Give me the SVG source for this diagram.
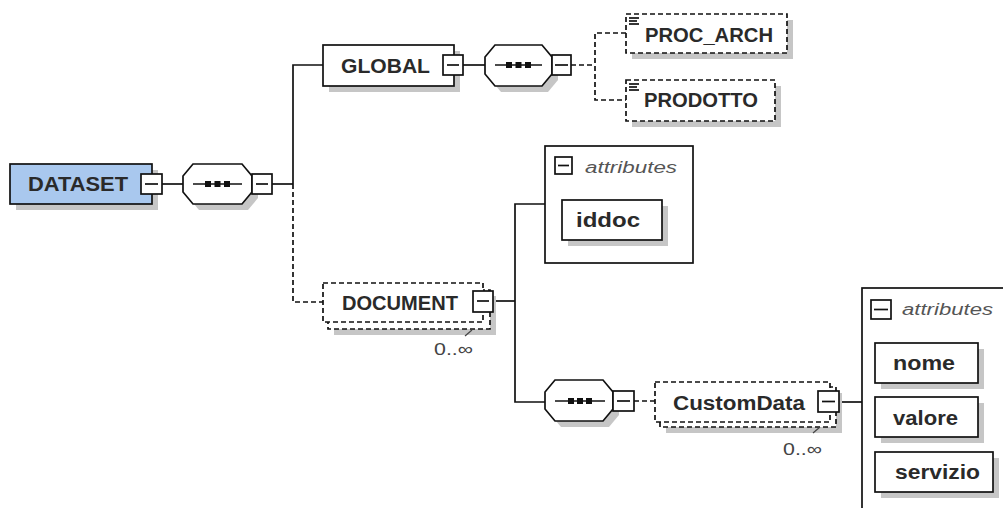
<svg xmlns="http://www.w3.org/2000/svg" width="1003" height="508" viewBox="0 0 1003 508">
<defs>
<style>
.sh{fill:#c6c6c6;stroke:none}
.box{fill:#ffffff;stroke:#111;stroke-width:1.7}
.dbox{fill:#ffffff;stroke:#111;stroke-width:1.7;stroke-dasharray:5,3}
.ln{fill:none;stroke:#111;stroke-width:1.7}
.dl{fill:none;stroke:#111;stroke-width:1.7;stroke-dasharray:5,3}
.el{font-family:"Liberation Sans",Arial,sans-serif;font-weight:bold;font-size:20px;fill:#2a2a2a}
.at{font-family:"Liberation Sans",Arial,sans-serif;font-style:italic;font-size:16px;fill:#555}
.an{font-family:"Liberation Sans",Arial,sans-serif;font-weight:bold;font-size:20px;fill:#2a2a2a}
.oc{font-family:"Liberation Sans",Arial,sans-serif;font-size:17px;fill:#444}
.dot{fill:#111}
</style>
</defs>
<rect width="1003" height="508" fill="#ffffff"/>

<g id="connectors">
<line class="ln" x1="162" y1="184" x2="183" y2="184"/>
<line class="ln" x1="272" y1="184" x2="293" y2="184"/>
<polyline class="ln" points="293,184 293,65 323,65"/>
<polyline class="dl" points="293,184 293,302 323,302"/>
<line class="ln" x1="463" y1="65" x2="485" y2="65"/>
<line class="dl" x1="571" y1="65" x2="595" y2="65"/>
<polyline class="dl" points="626,33 595,33 595,100 626,100"/>
<line class="ln" x1="493" y1="301" x2="515" y2="301"/>
<polyline class="ln" points="545,204 515,204 515,402 545,402"/>
<line class="dl" x1="634" y1="401" x2="655" y2="401"/>
<line class="ln" x1="840" y1="402" x2="862" y2="402"/>
</g>

<g id="DATASET">
<rect class="sh" x="16" y="170" width="142" height="40"/>
<rect x="10" y="164" width="142" height="40" fill="#a9c8ee" stroke="#111" stroke-width="1.7"/>
<text class="el" x="28" y="191" textLength="100" lengthAdjust="spacingAndGlyphs">DATASET</text>
<rect class="box" x="141" y="174" width="21" height="20"/>
<line class="ln" x1="145" y1="184" x2="158" y2="184"/>
</g>

<g id="seq1">
<polygon class="sh" points="199,170 248,170 258,182 258,198 248,210 199,210 189,198 189,182"/>
<polygon class="box" points="193,164 242,164 252,176 252,192 242,204 193,204 183,192 183,176"/>
<line class="ln" x1="193" y1="184" x2="242" y2="184"/>
<rect class="dot" x="205" y="181" width="6" height="6"/>
<rect class="dot" x="214.5" y="181" width="6" height="6"/>
<rect class="dot" x="224" y="181" width="6" height="6"/>
<rect class="box" x="252" y="174" width="20" height="20"/>
<line class="ln" x1="256" y1="184" x2="268" y2="184"/>
</g>

<g id="GLOBAL">
<rect class="sh" x="329" y="51" width="131" height="41"/>
<rect class="box" x="323" y="45" width="131" height="41"/>
<text class="el" x="341" y="73" textLength="89" lengthAdjust="spacingAndGlyphs">GLOBAL</text>
<rect class="box" x="443" y="55" width="20" height="20"/>
<line class="ln" x1="447" y1="65" x2="459" y2="65"/>
</g>

<g id="seq2">
<polygon class="sh" points="501,51 548,51 558,63 558,80 548,92 501,92 491,80 491,63"/>
<polygon class="box" points="495,45 542,45 552,57 552,74 542,86 495,86 485,74 485,57"/>
<line class="ln" x1="495" y1="65" x2="542" y2="65"/>
<rect class="dot" x="506" y="62" width="6" height="6"/>
<rect class="dot" x="515.5" y="62" width="6" height="6"/>
<rect class="dot" x="525" y="62" width="6" height="6"/>
<rect class="box" x="552" y="55" width="19" height="20"/>
<line class="ln" x1="555" y1="65" x2="568" y2="65"/>
</g>

<g id="PROC_ARCH">
<rect class="sh" x="632" y="20" width="161" height="39"/>
<rect class="dbox" x="626" y="14" width="161" height="39"/>
<line class="ln" x1="629" y1="18" x2="639" y2="18" stroke-width="1.3"/>
<line class="ln" x1="629" y1="21" x2="637" y2="21" stroke-width="1.3"/>
<line class="ln" x1="629" y1="24" x2="639" y2="24" stroke-width="1.3"/>
<text class="el" x="645" y="42" textLength="128" lengthAdjust="spacingAndGlyphs">PROC_ARCH</text>
</g>

<g id="PRODOTTO">
<rect class="sh" x="632" y="86" width="149" height="41"/>
<rect class="dbox" x="626" y="80" width="149" height="41"/>
<line class="ln" x1="629" y1="84" x2="639" y2="84" stroke-width="1.3"/>
<line class="ln" x1="629" y1="87" x2="637" y2="87" stroke-width="1.3"/>
<line class="ln" x1="629" y1="90" x2="639" y2="90" stroke-width="1.3"/>
<text class="el" x="644" y="107" textLength="114" lengthAdjust="spacingAndGlyphs">PRODOTTO</text>
</g>

<g id="DOCUMENT">
<rect class="sh" x="334" y="296" width="162" height="39"/>
<rect class="dbox" x="328" y="290" width="162" height="39"/>
<rect class="dbox" x="323" y="283" width="160" height="39"/>
<text class="el" x="342" y="310" textLength="116" lengthAdjust="spacingAndGlyphs">DOCUMENT</text>
<rect class="box" x="473" y="291" width="20" height="21"/>
<line class="ln" x1="477" y1="301" x2="489" y2="301"/>
<line x1="465" y1="336" x2="472" y2="330" stroke="#444" stroke-width="1.2"/>
<text class="oc" x="434" y="355" textLength="39" lengthAdjust="spacingAndGlyphs">0..∞</text>
</g>

<g id="attributes1">
<rect class="box" x="545" y="146" width="148" height="117"/>
<rect class="box" x="555" y="157" width="17" height="17" stroke-width="1.4"/>
<line class="ln" x1="558" y1="165.5" x2="569" y2="165.5" stroke-width="1.4"/>
<text class="at" x="585" y="173" textLength="92" lengthAdjust="spacingAndGlyphs">attributes</text>
<g id="iddoc">
<rect class="sh" x="568" y="206" width="100" height="40"/>
<rect class="box" x="562" y="200" width="100" height="40"/>
<text class="an" x="576" y="227" textLength="64" lengthAdjust="spacingAndGlyphs">iddoc</text>
</g>
</g>

<g id="seq3">
<polygon class="sh" points="561,386 609,386 619,398 619,415 609,427 561,427 551,415 551,398"/>
<polygon class="box" points="555,380 603,380 613,392 613,409 603,421 555,421 545,409 545,392"/>
<line class="ln" x1="555" y1="401" x2="605" y2="401"/>
<rect class="dot" x="568" y="398" width="6" height="6"/>
<rect class="dot" x="577" y="398" width="6" height="6"/>
<rect class="dot" x="586" y="398" width="6" height="6"/>
<rect class="box" x="613" y="391" width="21" height="20"/>
<line class="ln" x1="617" y1="401" x2="630" y2="401"/>
</g>

<g id="CustomData">
<rect class="sh" x="666" y="393" width="176" height="40"/>
<rect class="dbox" x="660" y="387" width="176" height="40"/>
<rect class="dbox" x="655" y="382" width="175" height="40"/>
<text class="el" x="673" y="410" textLength="132" lengthAdjust="spacingAndGlyphs">CustomData</text>
<rect class="box" x="818" y="391" width="21" height="21"/>
<line class="ln" x1="822" y1="401.5" x2="835" y2="401.5"/>
<line x1="813" y1="433" x2="820" y2="427" stroke="#444" stroke-width="1.2"/>
<text class="oc" x="783" y="455" textLength="39" lengthAdjust="spacingAndGlyphs">0..∞</text>
</g>

<g id="attributes2">
<rect class="box" x="862" y="288" width="160" height="240"/>
<rect class="box" x="871" y="300" width="20" height="19" stroke-width="1.4"/>
<line class="ln" x1="874" y1="309.5" x2="888" y2="309.5" stroke-width="1.4"/>
<text class="at" x="902" y="315" textLength="91" lengthAdjust="spacingAndGlyphs">attributes</text>
<g id="nome">
<rect class="sh" x="881" y="349" width="103" height="40"/>
<rect class="box" x="875" y="343" width="103" height="40"/>
<text class="an" x="893" y="370" textLength="62" lengthAdjust="spacingAndGlyphs">nome</text>
</g>
<g id="valore">
<rect class="sh" x="881" y="403" width="103" height="40"/>
<rect class="box" x="875" y="397" width="103" height="40"/>
<text class="an" x="893" y="425" textLength="65" lengthAdjust="spacingAndGlyphs">valore</text>
</g>
<g id="servizio">
<rect class="sh" x="881" y="458" width="118" height="40"/>
<rect class="box" x="875" y="452" width="118" height="40"/>
<text class="an" x="895" y="479" textLength="85" lengthAdjust="spacingAndGlyphs">servizio</text>
</g>
</g>
</svg>
